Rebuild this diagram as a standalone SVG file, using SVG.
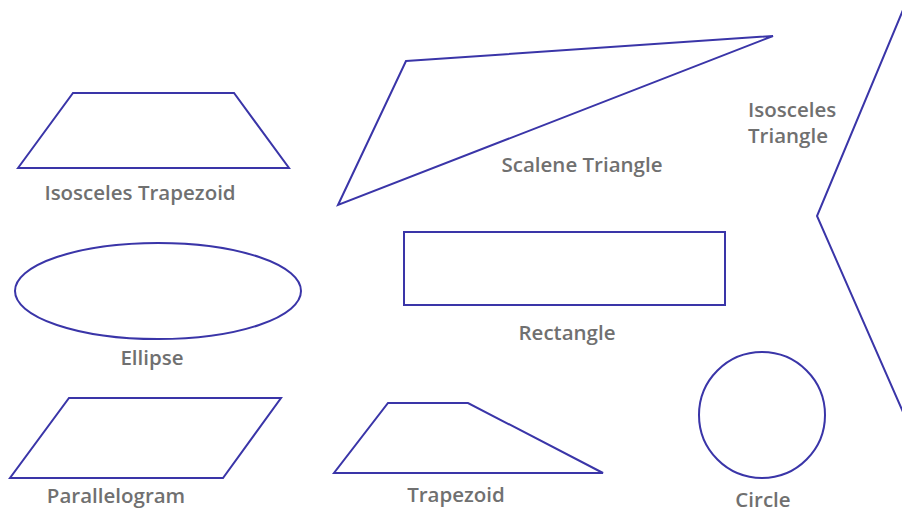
<svg xmlns="http://www.w3.org/2000/svg" width="902" height="514" viewBox="0 0 902 514">
<style>
.s{fill:none;stroke:#3a35a8;stroke-width:2;stroke-linejoin:miter}
.t{font-family:"Open Sans","Noto Sans","Liberation Sans",sans-serif;font-size:20.5px;font-weight:600;fill:#707070;text-anchor:middle}
.l{text-anchor:start}
</style>
<rect width="902" height="514" fill="#ffffff"/>
<g id="isosceles-trapezoid">
<polygon class="s" points="18,168 73,93 234,93 289,168"/>
<text class="t" x="140" y="200">Isosceles Trapezoid</text>
</g>
<g id="scalene-triangle">
<polygon class="s" points="406,61 773,36 338,205"/>
<text class="t" x="582" y="172">Scalene Triangle</text>
</g>
<g id="isosceles-triangle">
<polyline class="s" points="903,10 817,216 903,412"/>
<text class="t l" x="748" y="117">Isosceles</text>
<text class="t l" x="748" y="143">Triangle</text>
</g>
<g id="ellipse">
<ellipse class="s" cx="158" cy="291" rx="143" ry="48"/>
<text class="t" x="152" y="365">Ellipse</text>
</g>
<g id="rectangle">
<rect class="s" x="404" y="232" width="321" height="73"/>
<text class="t" x="567" y="340">Rectangle</text>
</g>
<g id="circle">
<circle class="s" cx="762" cy="415" r="63"/>
<text class="t" x="763" y="507">Circle</text>
</g>
<g id="parallelogram">
<polygon class="s" points="69,398 281,398 223,478 10,478"/>
<text class="t" x="116" y="503">Parallelogram</text>
</g>
<g id="trapezoid">
<polygon class="s" points="388,403 468,403 603,473 334,473"/>
<text class="t" x="456" y="502">Trapezoid</text>
</g>
<g id="connectors"/>
</svg>
